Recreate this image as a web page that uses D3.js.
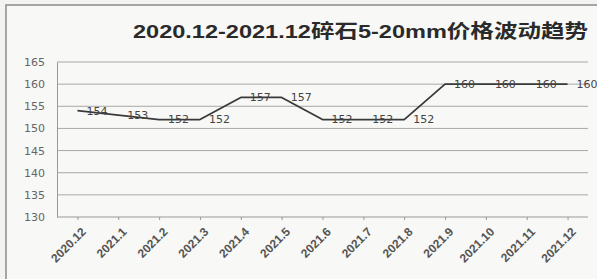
<!DOCTYPE html>
<html>
<head>
<meta charset="utf-8">
<script src="https://cdn.jsdelivr.net/npm/d3@7"></script>
<style>
  body { margin: 0; background: #f3f3f1; }
  svg { display: block; }
</style>
</head>
<body>
<script>
const width = 597, height = 279;

// data
const months = ["2020.12", "2021.1", "2021.2", "2021.3", "2021.4", "2021.5", "2021.6",
                "2021.7", "2021.8", "2021.9", "2021.10", "2021.11", "2021.12"];
const prices = [154, 153, 152, 152, 157, 157, 152, 152, 152, 160, 160, 160, 160];
const yTicks = [130, 135, 140, 145, 150, 155, 160, 165];
const title = "2020.12-2021.12碎石5-20mm价格波动趋势";

const margin = {left: 57, right: 9, top: 62, bottom: 62};

const svg = d3.select("body").append("svg")
  .attr("width", width)
  .attr("height", height);

// scanned page frame
svg.append("rect")
  .attr("x", 6).attr("y", 5)
  .attr("width", width + 10).attr("height", height + 10)
  .attr("fill", "#f8f8f6")
  .attr("stroke", "#8a8a8a")
  .attr("stroke-width", 1.5);

const x = d3.scalePoint()
  .domain(months)
  .range([margin.left, width - margin.right])
  .padding(0.5);

const y = d3.scaleLinear()
  .domain([130, 165])
  .range([height - margin.bottom, margin.top]);

// title
svg.append("text")
  .attr("x", 133)
  .attr("y", 38)
  .attr("font-family", "'Liberation Sans', 'Noto Sans CJK SC', sans-serif")
  .attr("font-weight", "bold")
  .attr("font-size", 19)
  .attr("fill", "#2a2a2a")
  .attr("textLength", 455)
  .attr("lengthAdjust", "spacingAndGlyphs")
  .text(title);

// grid lines
svg.append("g")
  .selectAll("line")
  .data(yTicks.slice(1))
  .enter().append("line")
    .attr("x1", margin.left)
    .attr("x2", width - margin.right)
    .attr("y1", d => y(d))
    .attr("y2", d => y(d))
    .attr("stroke", "#a8a8a8")
    .attr("stroke-width", 1);

// y axis
const yAxis = svg.append("g")
  .attr("transform", `translate(${margin.left},0)`)
  .call(d3.axisLeft(y).tickValues(yTicks).tickSize(0).tickPadding(12));
yAxis.select(".domain").attr("stroke", "#999");
yAxis.selectAll("text")
  .attr("font-family", "'DejaVu Sans', sans-serif")
  .attr("font-size", 11)
  .attr("fill", "#666");

// x axis
const xAxis = svg.append("g")
  .attr("transform", `translate(0,${y(130)})`)
  .call(d3.axisBottom(x).tickSize(3).tickPadding(4));
xAxis.select(".domain").attr("stroke", "#999")
  .attr("d", `M${margin.left},0H${width - margin.right}`);
xAxis.selectAll(".tick line").attr("stroke", "#999");
xAxis.selectAll("text")
  .attr("font-family", "'Liberation Sans', sans-serif")
  .attr("font-weight", "bold")
  .attr("font-size", 12)
  .attr("fill", "#555")
  .attr("text-anchor", "end")
  .attr("dx", "-0.4em")
  .attr("dy", "0.85em")
  .attr("transform", "rotate(-45)");

// price line
const line = d3.line()
  .x((d, i) => x(months[i]))
  .y(d => y(d));

svg.append("path")
  .datum(prices)
  .attr("d", line)
  .attr("fill", "none")
  .attr("stroke", "#3a3a3a")
  .attr("stroke-width", 1.8)
  .attr("stroke-linejoin", "round");

// data labels
svg.append("g")
  .selectAll("text")
  .data(prices)
  .enter().append("text")
    .attr("x", (d, i) => x(months[i]) + 9)
    .attr("y", d => y(d))
    .attr("dy", "0.35em")
    .attr("font-family", "'DejaVu Sans', sans-serif")
    .attr("font-size", 11)
    .attr("fill", "#444")
    .text(d => d);
</script>
</body>
</html>
